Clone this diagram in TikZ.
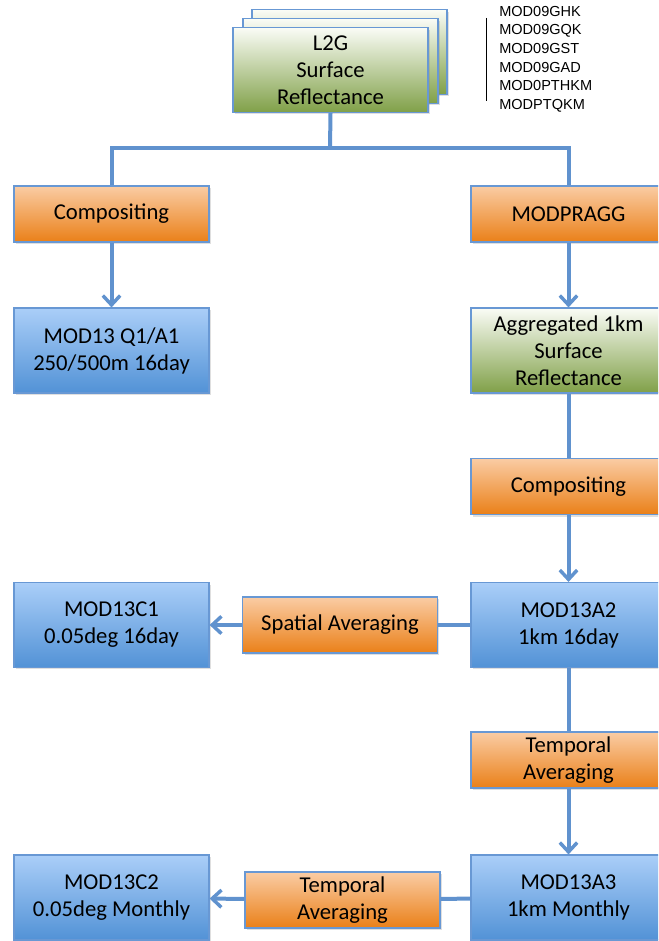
\documentclass[tikz,border=0pt]{standalone}
\usepackage{fontspec}
\setmainfont{Carlito}
\newfontfamily\listfont{Liberation Sans}
\usetikzlibrary{arrows.meta,shadows}

\definecolor{linkblue}{RGB}{96,146,206}
\definecolor{edgeblue}{RGB}{104,152,212}
\definecolor{orangetop}{RGB}{250,204,164}
\definecolor{orangebot}{RGB}{234,128,24}
\definecolor{bluetop}{RGB}{170,206,248}
\definecolor{bluebot}{RGB}{82,146,214}
\definecolor{greentop}{RGB}{250,252,246}
\definecolor{greenbot}{RGB}{128,160,72}

\tikzset{
  box/.style={draw=edgeblue,line width=1.1pt,align=center,inner sep=0pt,
    font=\fontsize{17}{20.2}\selectfont,
    drop shadow={shadow xshift=1.5pt,shadow yshift=-1.5pt,opacity=0.25}},
  procbox/.style={box,minimum width=146pt,minimum height=42pt,
    top color=orangetop,bottom color=orangebot},
  prodbox/.style={box,minimum width=146pt,minimum height=63.5pt,
    top color=bluetop,bottom color=bluebot},
  reflbox/.style={box,minimum width=146pt,minimum height=63.5pt,
    top color=greentop,bottom color=greenbot},
  link/.style={draw=linkblue,line width=3pt},
  flow/.style={link,-{Straight Barb[length=7pt,width=13pt,line width=2.6pt]}}
}

\begin{document}
\begin{tikzpicture}[x=0.75pt,y=-0.75pt]
  \useasboundingbox (0,0) rectangle (658,941);
  \clip (0,0) rectangle (658,941);

  % stacked input granules
  \node[reflbox] (l2gc) at (349.5,52) {};
  \node[reflbox] (l2gb) at (340.5,61) {};
  \node[reflbox] (l2g) at (330.5,70) {L2G\\Surface\\Reflectance};

  \draw[line width=0.6pt] (486,18) -- (486,101);
  \node[font=\listfont\fontsize{10.9}{13.9}\selectfont,align=left,anchor=north west,inner sep=0pt]
    (inlist) at (499,6) {MOD09GHK\\MOD09GQK\\MOD09GST\\MOD09GAD\\MOD0PTHKM\\MODPTQKM};

  % left branch
  \node[procbox] (comp1) at (111.5,214) {Compositing};
  \node[prodbox] (q1) at (111.5,350.5) {MOD13 Q1/A1\\250/500m 16day};

  % right column
  \node[procbox] (pragg) at (568.5,214) {MODPRAGG};
  \node[reflbox] (agg) at (568.5,350.5) {Aggregated 1km\\Surface\\Reflectance};
  \node[procbox] (comp2) at (568.5,486.5) {Compositing};
  \node[prodbox] (a2) at (568.5,625) {MOD13A2\\1km 16day};
  \node[procbox] (temp1) at (568.5,760) {Temporal\\Averaging};
  \node[prodbox] (a3) at (568.5,897.5) {MOD13A3\\1km Monthly};

  % climate modelling grid
  \node[procbox] (spat) at (340,625) {Spatial Averaging};
  \node[prodbox] (c1) at (111.5,625) {MOD13C1\\0.05deg 16day};
  \node[procbox] (temp2) at (342.5,900) {Temporal\\Averaging};
  \node[prodbox] (c2) at (111.5,897.5) {MOD13C2\\0.05deg Monthly};

  \coordinate (split) at (330,148);
  \coordinate (splitl) at (111.5,148);
  \coordinate (splitr) at (568.5,148);

  \draw[link] (l2g.south) -- (split);
  \draw[link,line cap=rect] (splitl) -- (splitr);
  \draw[link] (splitl) -- (comp1.north);
  \draw[link] (splitr) -- (pragg.north);

  \draw[flow] (comp1) -- (q1);
  \draw[flow] (pragg) -- (agg);
  \draw[link] (agg) -- (comp2);
  \draw[flow] (comp2) -- (a2);
  \draw[link] (a2) -- (spat);
  \draw[flow] (spat) -- (c1);
  \draw[link] (a2) -- (temp1);
  \draw[flow] (temp1) -- (a3);
  \draw[link] (a3) -- (temp2);
  \draw[flow] (temp2) -- (c2);
\end{tikzpicture}
\end{document}
